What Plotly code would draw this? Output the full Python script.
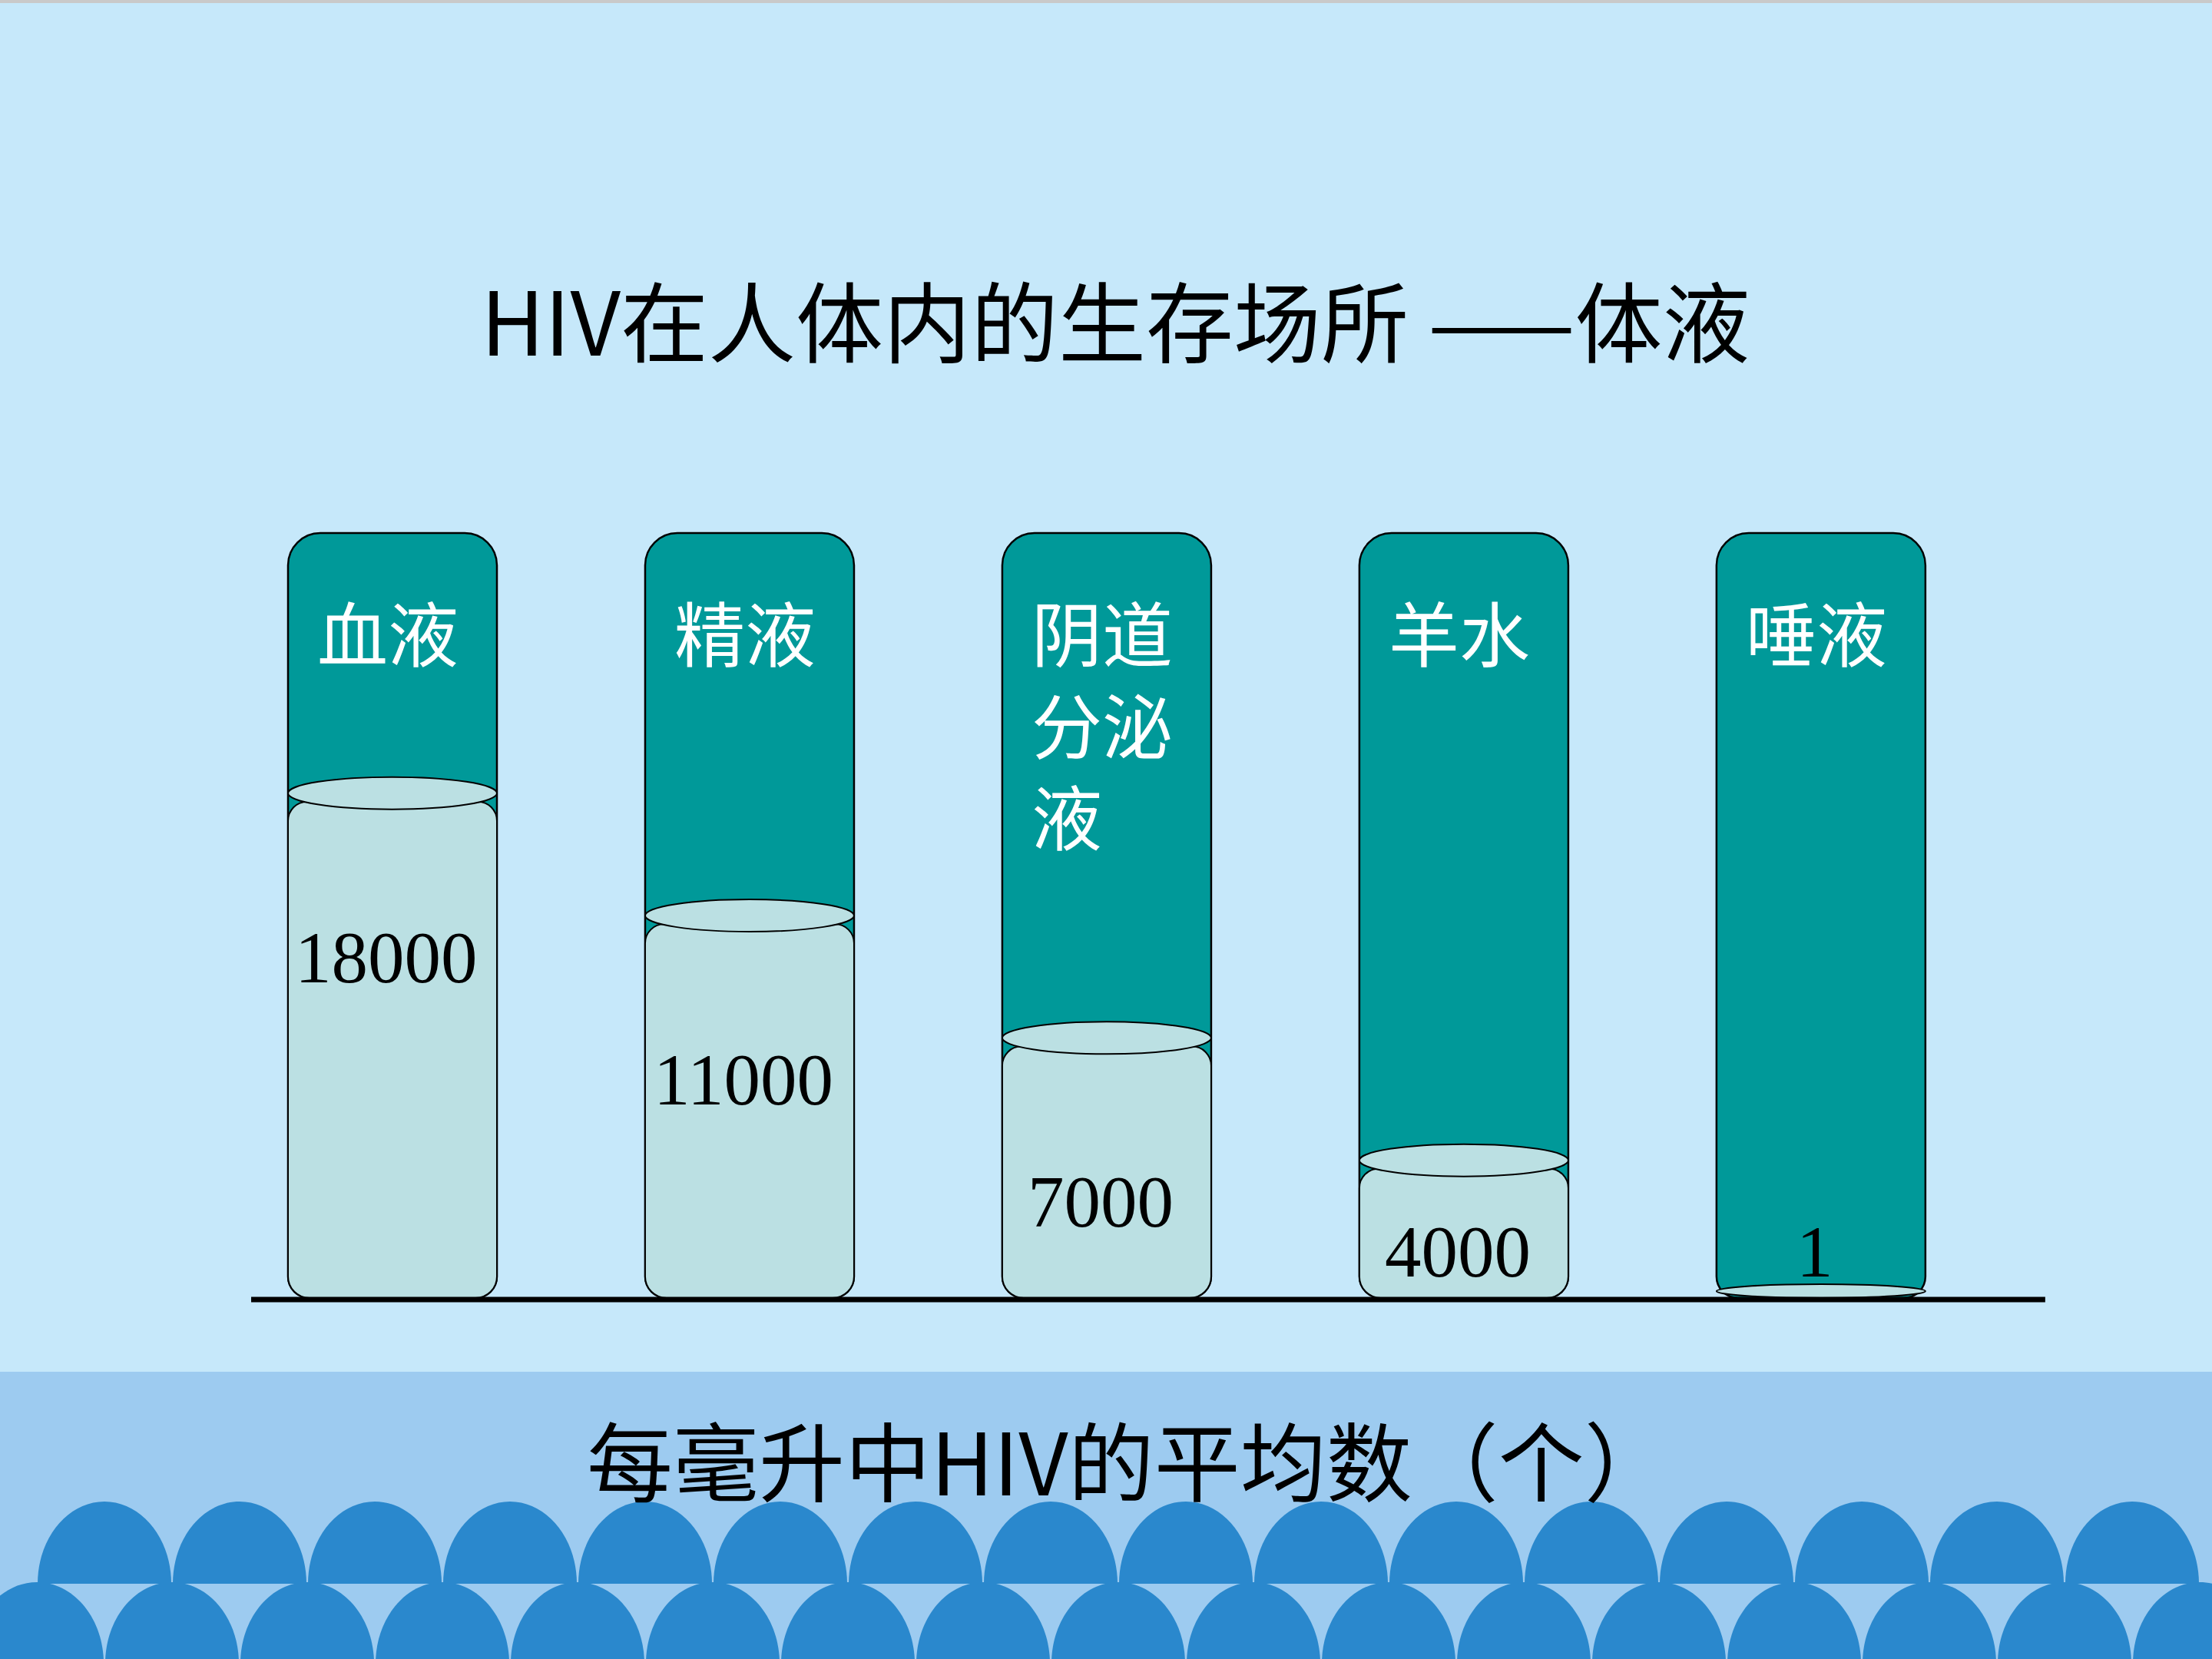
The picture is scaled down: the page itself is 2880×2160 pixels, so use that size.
import plotly.graph_objects as go

# ---------------- data ----------------
categories = ["血液", "精液", "阴道分泌液", "羊水", "唾液"]
hiv_per_ml = [18000, 11000, 7000, 4000, 1]
# liquid level of each container, as a fraction of the container height
fill_level = [0.66, 0.50, 0.34, 0.18, 0.009]
title_text = "HIV在人体内的生存场所 ——体液"
axis_label = "每毫升中HIV的平均数（个）"

# ---------------- geometry / style ----------------
W, H = 2880, 2160
X_RANGE = [-1.099, 5.095]
Y_RANGE = [-0.472, 1.697]
PXX = W / (X_RANGE[1] - X_RANGE[0])
PXY = H / (Y_RANGE[1] - Y_RANGE[0])

BG = "#C6E8FA"
BAND = "#9DCBF0"
WAVE = "#2A88CD"
TEAL = "#009999"
LIQUID = "#BBE0E3"
CJK = "Noto Sans CJK SC"
SERIF = "Liberation Serif"

K = 0.5523


def px_x(p):
    return p / PXX


def px_y(p):
    return p / PXY


def rounded_rect(x0, x1, y0, y1, r_top, r_bot):
    tx, ty = px_x(r_top), px_y(r_top)
    bx, by = px_x(r_bot), px_y(r_bot)
    hh = (y1 - y0) / 2
    ty = min(ty, hh)
    by = min(by, hh)
    p = [
        f"M {x0 + bx},{y0}", f"L {x1 - bx},{y0}",
        f"C {x1 - bx + K * bx},{y0} {x1},{y0 + by - K * by} {x1},{y0 + by}",
        f"L {x1},{y1 - ty}",
        f"C {x1},{y1 - ty + K * ty} {x1 - tx + K * tx},{y1} {x1 - tx},{y1}",
        f"L {x0 + tx},{y1}",
        f"C {x0 + tx - K * tx},{y1} {x0},{y1 - ty + K * ty} {x0},{y1 - ty}",
        f"L {x0},{y0 + by}",
        f"C {x0},{y0 + by - K * by} {x0 + bx - K * bx},{y0} {x0 + bx},{y0}",
        "Z",
    ]
    return " ".join(p)


def dome(cx, base, a, b):
    # upward half-ellipse in pixel units -> paper coords
    def P(x, y):
        return f"{x / W},{(H - y) / H}"
    return (f"M {P(cx - a, base)} C {P(cx - a, base - K * b)} {P(cx - K * a, base - b)} {P(cx, base - b)} "
            f"C {P(cx + K * a, base - b)} {P(cx + a, base - K * b)} {P(cx + a, base)} Z")


shapes = []
# top grey strip
shapes.append(dict(type="rect", xref="paper", yref="paper", x0=0, x1=1, y0=1 - 4 / H, y1=1,
                   fillcolor="#C9C9C9", line=dict(width=0), layer="below"))
# bottom band
shapes.append(dict(type="rect", xref="paper", yref="paper", x0=0, x1=1, y0=0, y1=(H - 1786) / H,
                   fillcolor=BAND, line=dict(width=0), layer="below"))
# waves: two staggered rows of domes
for k in range(17):
    shapes.append(dict(type="path", xref="paper", yref="paper", path=dome(48 + 176 * k, 2166, 87, 106),
                       fillcolor=WAVE, line=dict(width=0), layer="below"))
for k in range(16):
    shapes.append(dict(type="path", xref="paper", yref="paper", path=dome(136 + 176 * k, 2062, 87, 107),
                       fillcolor=WAVE, line=dict(width=0), layer="below"))

half = px_x(136)
ell_h = px_y(21)
for i, lvl in enumerate(fill_level):
    x0, x1 = i - half, i + half
    # container
    shapes.append(dict(type="path", xref="x", yref="y", path=rounded_rect(x0, x1, 0, 1, 42, 28),
                       fillcolor=TEAL, line=dict(color="black", width=2.5)))
    # liquid body
    top = lvl - px_y(11)
    if top > px_y(4):
        shapes.append(dict(type="path", xref="x", yref="y", path=rounded_rect(x0, x1, 0, top, 25, 28),
                           fillcolor=LIQUID, line=dict(color="black", width=2)))
    # liquid surface
    eh = min(ell_h, lvl)
    shapes.append(dict(type="circle", xref="x", yref="y", x0=x0, x1=x1, y0=lvl - eh, y1=lvl + eh,
                       fillcolor=LIQUID, line=dict(color="black", width=2)))

# baseline
shapes.append(dict(type="line", xref="x", yref="y", x0=-px_x(184), x1=len(categories) - 1 + px_x(292),
                   y0=-px_y(2), y1=-px_y(2), line=dict(color="black", width=7)))

annotations = [
    dict(text=title_text, xref="paper", yref="paper", x=0.5045, y=(H - 414) / H,
         xanchor="center", yanchor="middle", showarrow=False,
         font=dict(family=CJK, size=114, color="black")),
    dict(text=axis_label, xref="paper", yref="paper", x=0.5104, y=(H - 1898) / H,
         xanchor="center", yanchor="middle", showarrow=False,
         font=dict(family=CJK, size=112, color="black")),
]

for i, (name, val, lvl) in enumerate(zip(categories, hiv_per_ml, fill_level)):
    wrapped = "<br>".join(name[j:j + 2] for j in range(0, len(name), 2))
    annotations.append(dict(text=wrapped, x=i - px_x(100), y=1 - px_y(58),
                            xref="x", yref="y", xanchor="left", yanchor="top", align="left",
                            showarrow=False, font=dict(family=CJK, size=92, color="white")))
    annotations.append(dict(text=f"{val}", x=i - px_x(8), y=max(lvl - px_y(214), px_y(60)),
                            xref="x", yref="y", xanchor="center", yanchor="middle", showarrow=False,
                            font=dict(family=SERIF, size=95, color="black")))

fig = go.Figure()
fig.add_trace(go.Scatter(x=list(range(len(categories))), y=fill_level, mode="markers",
                         marker=dict(opacity=0), hoverinfo="skip", showlegend=False))
fig.update_layout(
    width=W, height=H, margin=dict(l=0, r=0, t=0, b=0),
    paper_bgcolor=BG, plot_bgcolor="rgba(0,0,0,0)",
    xaxis=dict(visible=False, range=X_RANGE, fixedrange=True),
    yaxis=dict(visible=False, range=Y_RANGE, fixedrange=True),
    shapes=shapes, annotations=annotations, showlegend=False,
)
fig.write_html("out.html")
